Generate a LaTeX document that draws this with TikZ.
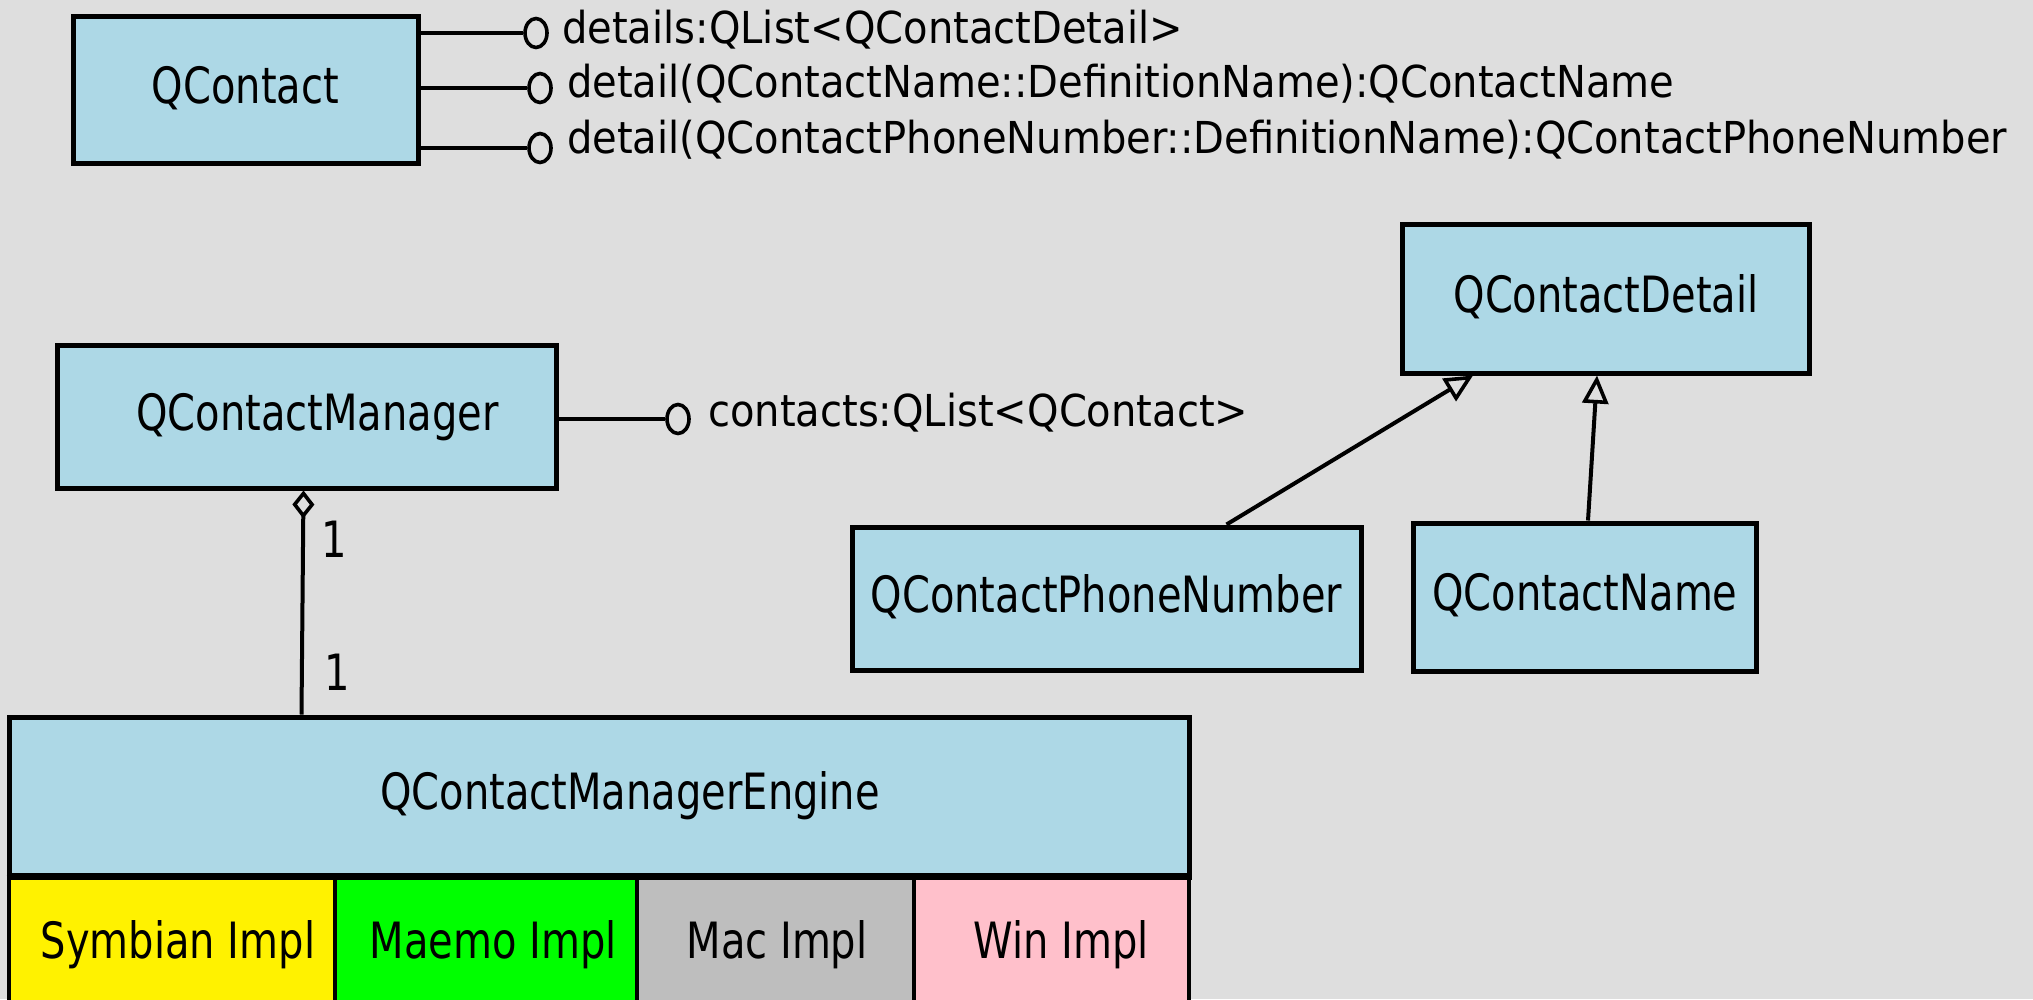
\documentclass[tikz,border=0pt]{standalone}
\usepackage{fontspec}
\setmainfont{DejaVu Sans}
\newfontfamily\boxfnt[FakeStretch=0.8]{DejaVu Sans}
\newfontfamily\attrfnt[FakeStretch=0.91]{DejaVu Sans}
\usetikzlibrary{arrows.meta,calc,shapes.geometric}
\definecolor{bgc}{RGB}{222,222,222}
\definecolor{boxblue}{RGB}{173,216,230}
\definecolor{implgray}{RGB}{190,190,190}
\definecolor{implpink}{RGB}{255,192,203}
\begin{document}
\begin{tikzpicture}[x=1pt,y=-1pt,
  cls/.style={draw=black, line width=5pt, fill=boxblue, inner sep=0pt,
    font=\boxfnt\fontsize{50pt}{60pt}\selectfont, text height=37pt, text depth=10pt},
  impl/.style={cls, line width=3.5pt, minimum height=140pt},
  attr/.style={anchor=base west, inner sep=0pt, font=\attrfnt\fontsize{44pt}{52pt}\selectfont},
  lolly/.style={draw=black, line width=3.6pt, fill=bgc, ellipse, inner sep=0pt,
    minimum width=22pt, minimum height=29pt},
  conn/.style={draw=black, line width=4pt},
  gen/.style={conn, -{Triangle[open, length=28pt, width=26pt, line width=3.6pt]}},
  agg/.style={conn, -{Diamond[open, length=28pt, width=22pt, line width=3.6pt]}},
  mult/.style={inner sep=0pt, anchor=base, font=\boxfnt\fontsize{50pt}{60pt}\selectfont}
]
\fill[bgc] (0,0) rectangle (2033,999);
\useasboundingbox (0,0) rectangle (2033,999);

% classes
\node[cls, minimum width=345pt, minimum height=147pt] (qc) at (245.5,89.5) {QContact};
\node[cls, minimum width=499pt, minimum height=143pt] (mgr) at (306.5,416.5) {\hspace*{22pt}QContactManager};
\node[cls, minimum width=407pt, minimum height=149pt] (det) at (1606,298.5) {QContactDetail};
\node[cls, minimum width=509pt, minimum height=143pt] (pn) at (1106.5,598.5) {QContactPhoneNumber};
\node[cls, minimum width=343pt, minimum height=148pt] (nm) at (1585,597) {QContactName};
\node[cls, minimum width=1180pt, minimum height=158pt] (eng) at (599,796) {\hspace*{62pt}QContactManagerEngine};

% implementations
\node[impl, fill=yellow, minimum width=326pt] (sym) at (172,945) {\hspace*{12pt}Symbian Impl};
\node[impl, fill=green, minimum width=302pt] (mae) at (486,945) {\hspace*{14pt}Maemo Impl};
\node[impl, fill=implgray, minimum width=277pt] (mac) at (775.5,945) {\hspace*{3pt}Mac Impl};
\node[impl, fill=implpink, minimum width=275pt] (win) at (1051.5,945) {\hspace*{20pt}Win Impl};
\draw[line width=5pt] (eng.south west) -- (eng.south east);

% attributes (lollipops)
\node[lolly] (c1) at (536,33) {};
\node[lolly] (c2) at (540,88) {};
\node[lolly] (c3) at (540,148) {};
\node[lolly] (c4) at (678,419) {};
\draw[conn] (qc.east |- c1) -- (c1.west);
\draw[conn] (qc.east |- c2) -- (c2.west);
\draw[conn] (qc.east |- c3) -- (c3.west);
\draw[conn] (mgr.east |- c4) -- (c4.west);
\node[attr] (t1) at (562,43) {details:QList<QContactDetail>};
\node[attr] (t2) at (567,97) {detail(QContactName::DefinitionName):QContactName};
\node[attr] (t3) at (567,153) {detail(QContactPhoneNumber::DefinitionName):QContactPhoneNumber};
\node[attr] (t4) at (708,426) {contacts:QList<QContact>};

% aggregation
\draw[agg] ($(eng.north west)+(295,0)$) -- ($(mgr.south west)+(249,0)$);
\node[mult] (m1) at (334,557) {1};
\node[mult] (m2) at (337,690) {1};

% generalisation
\draw[gen] ($(pn.north west)+(377,0)$) -- ($(det.south west)+(73,0)$);
\draw[gen] ($(nm.north west)+(177,0)$) -- ($(det.south west)+(197,0)$);
\end{tikzpicture}
\end{document}
